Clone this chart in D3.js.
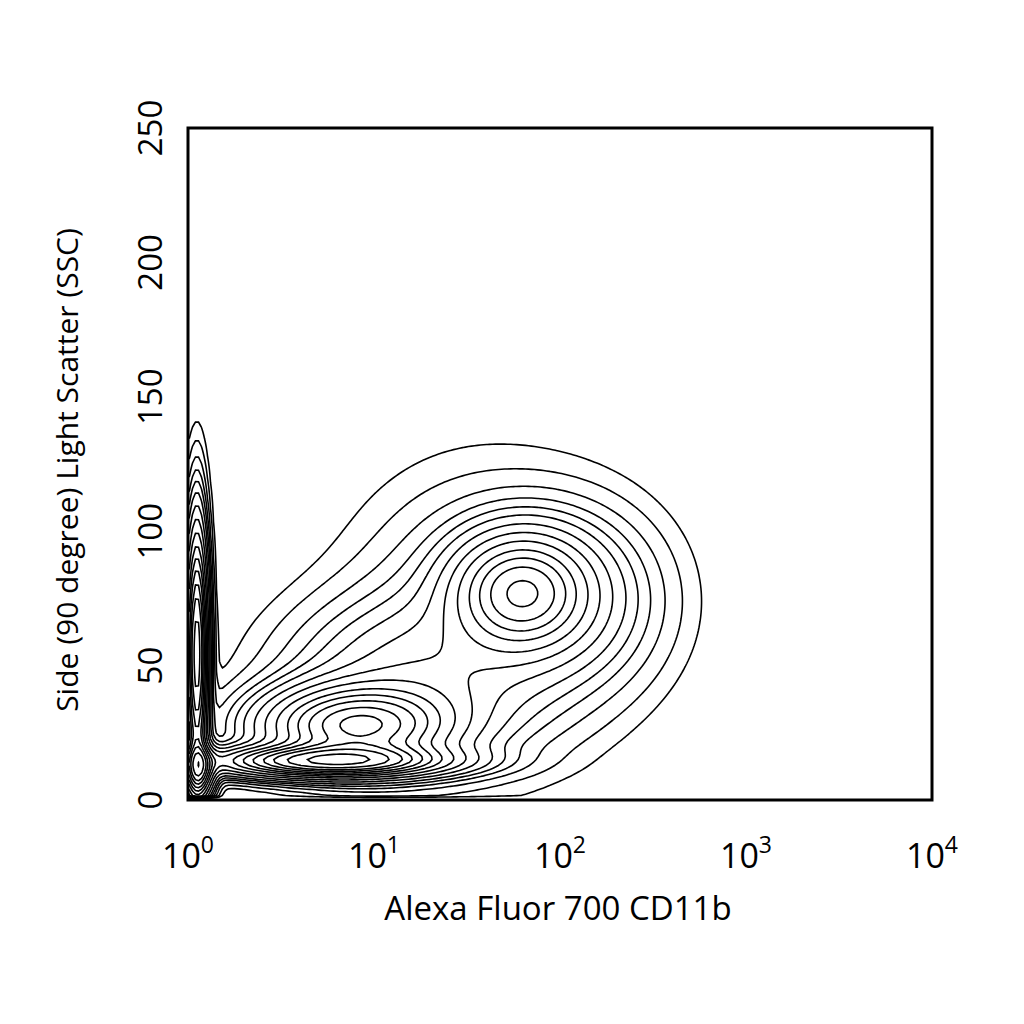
<!DOCTYPE html>
<html><head><meta charset="utf-8">
<script src="https://cdn.jsdelivr.net/npm/d3@7"></script>
<style>body{margin:0;background:#fff}text{font-family:"Open Sans",sans-serif;fill:#000}</style>
</head><body><svg width="1024" height="1024"></svg>
<script>
// populations: centre (log10 x, SSC), spread, weight
var popX = [0.90, 0.75, 1.78, 0.04, 1.60, 0.05, 1.20, 2.05];
var popY = [28, 15, 78, 55, 70, 12, 45, 75];
var popSX = [0.30, 0.36, 0.22, 0.035, 0.42, 0.05, 0.40, 0.30];
var popSY = [9, 3.5, 13, 28, 30, 6, 18, 20];
var popW = [1.0, 1.3, 0.75, 1.4, 0.1, 0.9, 0.22, 0.15];
var levels = [0.012, 0.025, 0.045, 0.07, 0.1, 0.14, 0.2, 0.28, 0.38, 0.5, 0.62, 0.75, 0.9, 1.05, 1.25, 1.5, 1.8, 2.2];
var xTicks = [0, 1, 2, 3, 4];
var yTicks = [0, 50, 100, 150, 200, 250];

var svg = d3.select("svg");
var L = 188, R = 932, T = 128, B = 800;
var x = d3.scaleLog().domain([1, 1e4]).range([L, R]);
var y = d3.scaleLinear().domain([0, 250]).range([B, T]);

var step = 3, nx = Math.ceil((R - L) / step), ny = Math.ceil((B - T) / step);
var grid = new Float64Array(nx * ny);
for (var j = 0; j < ny; j++) {
  var yv = y.invert(T + j * step);
  for (var i = 0; i < nx; i++) {
    var lx = Math.log10(x.invert(L + i * step)), s = 0;
    for (var k = 0; k < popX.length; k++) {
      var dx = (lx - popX[k]) / popSX[k], dy = (yv - popY[k]) / popSY[k];
      s += popW[k] * Math.exp(-0.5 * (dx * dx + dy * dy));
    }
    if (yv < 2) s = 0;
    grid[j * nx + i] = s;
  }
}
var contours = d3.contours().size([nx, ny]).thresholds(levels)(grid);
var proj = d3.geoTransform({point: function(px, py) { this.stream.point(L + px * step, T + py * step); }});
var g = svg.append("g");
g.selectAll("path").data(contours).enter().append("path")
  .attr("d", d3.geoPath(proj)).attr("fill", "none").attr("stroke", "#000").attr("stroke-width", 1.6);

svg.append("rect").attr("x", L).attr("y", T).attr("width", R - L).attr("height", B - T)
  .attr("fill", "none").attr("stroke", "#000").attr("stroke-width", 3);

xTicks.forEach(function(e) {
  var t = svg.append("text").attr("x", x(Math.pow(10, e))).attr("y", 868)
    .attr("text-anchor", "middle").style("font-size", "34px");
  t.append("tspan").text("10");
  t.append("tspan").attr("dy", -15).style("font-size", "23px").text(e);
});
yTicks.forEach(function(v) {
  svg.append("text").attr("transform", "translate(162," + y(v) + ") rotate(-90)")
    .attr("text-anchor", "middle").style("font-size", "33px").text(v);
});
svg.append("text").attr("x", (L + R) / 2 - 2).attr("y", 920).attr("text-anchor", "middle")
  .style("font-size", "33px").text("Alexa Fluor 700 CD11b");
svg.append("text").attr("transform", "translate(78,470) rotate(-90)").attr("text-anchor", "middle")
  .style("font-size", "30px").text("Side (90 degree) Light Scatter (SSC)");
</script></body></html>
